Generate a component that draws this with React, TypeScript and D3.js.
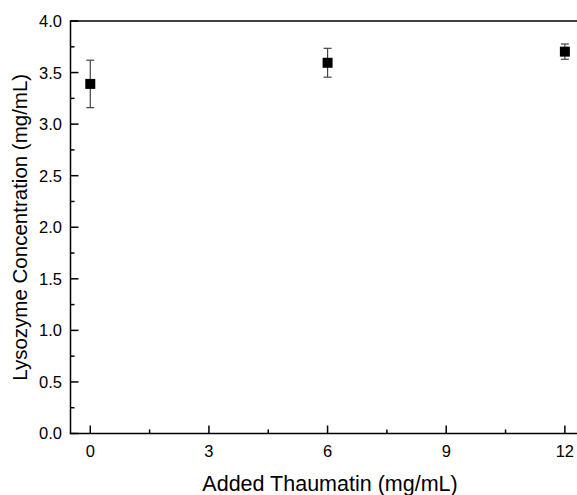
import React from "react";
import * as d3 from "d3";

const xValues = [0, 6, 12];
const yValues = [3.39, 3.595, 3.703];
const yErrors = [0.23, 0.14, 0.074];
const xTicks = [0, 3, 6, 9, 12];
const xMinorTicks = [1.5, 4.5, 7.5, 10.5];
const yTicks = [0, 0.5, 1, 1.5, 2, 2.5, 3, 3.5, 4];
const yMinorTicks = [0.25, 0.75, 1.25, 1.75, 2.25, 2.75, 3.25, 3.75];
const xLabel = "Added Thaumatin (mg/mL)";
const yLabel = "Lysozyme Concentration (mg/mL)";

const W = 577;
const H = 495;
const left = 70.5;
const top = 21;
const bottom = 433.5;

export default function App() {
  const x = d3.scaleLinear().domain([-0.5, 12.5]).range([left, left + 13 * 39.55]);
  const y = d3.scaleLinear().domain([0, 4]).range([bottom, top]);
  const font = "Arial, 'Liberation Sans', sans-serif";
  const fmt = d3.format(".1f");
  return (
    <svg width={W} height={H} style={{ position: "absolute", left: 0, top: 0, background: "#fff" }}>
      {xValues.map((xv, i) => {
        const cx = x(xv);
        const y1 = y(yValues[i] + yErrors[i]);
        const y2 = y(yValues[i] - yErrors[i]);
        return (
          <g key={"e" + i} stroke="#444" strokeWidth={1.2}>
            <line x1={cx} x2={cx} y1={y1} y2={y2} />
            <line x1={cx - 4} x2={cx + 4} y1={y1} y2={y1} />
            <line x1={cx - 4} x2={cx + 4} y1={y2} y2={y2} />
          </g>
        );
      })}
      {xValues.map((xv, i) => (
        <rect key={"p" + i} x={x(xv) - 5} y={y(yValues[i]) - 5} width={10} height={10} fill="#000" />
      ))}
      <g stroke="#000" strokeWidth={1.5} fill="none">
        <line x1={left} x2={left} y1={top} y2={bottom} />
        <line x1={left - 0.75} x2={x(12.5)} y1={bottom} y2={bottom} />
        <line x1={left - 0.75} x2={x(12.5)} y1={top} y2={top} />
        {xTicks.map((t) => (
          <line key={"xt" + t} x1={x(t)} x2={x(t)} y1={bottom} y2={bottom - 8} />
        ))}
        {xMinorTicks.map((t) => (
          <line key={"xm" + t} x1={x(t)} x2={x(t)} y1={bottom} y2={bottom - 4} />
        ))}
        {yTicks.map((t) => (
          <line key={"yt" + t} x1={left} x2={left + 8} y1={y(t)} y2={y(t)} />
        ))}
        {yMinorTicks.map((t) => (
          <line key={"ym" + t} x1={left} x2={left + 4} y1={y(t)} y2={y(t)} />
        ))}
      </g>
      {xTicks.map((t) => (
        <text key={"xl" + t} x={x(t)} y={457} textAnchor="middle" fontFamily={font} fontSize={16.5} fill="#000">
          {t}
        </text>
      ))}
      {yTicks.map((t) => (
        <text key={"yl" + t} x={62} y={y(t)} dy="0.36em" textAnchor="end" fontFamily={font} fontSize={16.5} fill="#000">
          {fmt(t)}
        </text>
      ))}
      <text x={330} y={491} textAnchor="middle" fontFamily={font} fontSize={21.5} fill="#000">
        {xLabel}
      </text>
      <text
        transform={`translate(27,${(top + bottom) / 2}) rotate(-90)`}
        textAnchor="middle"
        fontFamily={font}
        fontSize={20.5}
        fill="#000"
      >
        {yLabel}
      </text>
    </svg>
  );
}
